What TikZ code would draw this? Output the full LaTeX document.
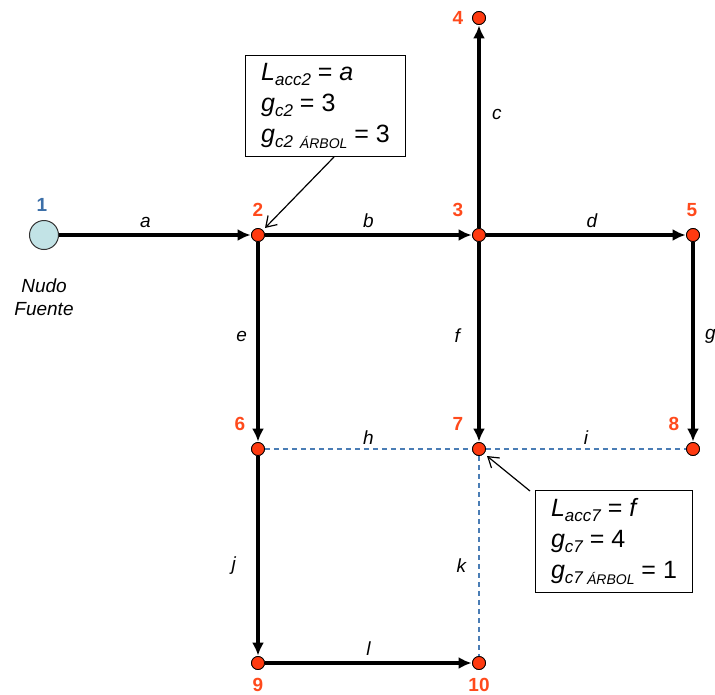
\documentclass[tikz,border=0pt]{standalone}
\usepackage{fontspec}
\setmainfont{Liberation Sans}
\usetikzlibrary{arrows.meta,calc}
\definecolor{nred}{HTML}{FF3A10}
\definecolor{lred}{HTML}{FF4A1C}
\definecolor{lblue}{HTML}{3C6FA8}
\definecolor{dblue}{HTML}{4A7DB5}
\definecolor{src}{HTML}{C2E3E6}
\newcommand{\sbs}[1]{\raisebox{-0.35ex}{\fontsize{17}{17}\selectfont\itshape #1}}
\newcommand{\sbss}[1]{\raisebox{-0.45ex}{\fontsize{14}{14}\selectfont\itshape #1}}
\begin{document}
\begin{tikzpicture}[x=1pt,y=-1pt,
  vtx/.style={circle,draw=black,line width=0.8pt,fill=nred,minimum size=13pt,inner sep=0pt},
  srcnode/.style={circle,draw=black!80,line width=1pt,fill=src,minimum size=29pt,inner sep=0pt},
  num/.style={text=lred,font=\fontsize{19}{19}\selectfont\bfseries},
  elab/.style={font=\fontsize{19}{19}\selectfont\itshape},
  arc/.style={line width=3.6pt,-{Latex[length=13pt,width=12pt]},shorten >=0.5pt},
  tie/.style={dblue,line width=1.2pt,dash pattern=on 5pt off 4pt},
  infobox/.style={draw=black,line width=1pt,fill=white,align=left,inner xsep=12pt,inner ysep=5pt,font=\fontsize{25}{31}\selectfont},
  pointer/.style={line width=1.2pt,-{Straight Barb[length=10pt,width=13pt]}}]
\useasboundingbox (0,0) rectangle (715,694);
% nodes
\node[srcnode] (n1) at (44,235) {};
\node[vtx] (n2) at (258,235) {};
\node[vtx] (n3) at (479,235) {};
\node[vtx] (n4) at (479,18) {};
\node[vtx] (n5) at (693,235) {};
\node[vtx] (n6) at (258,449) {};
\node[vtx] (n7) at (479,449) {};
\node[vtx] (n8) at (693,449) {};
\node[vtx] (n9) at (258,663) {};
\node[vtx] (n10) at (479,663) {};
% dashed ties
\draw[tie] (n6) -- (n7) node[pos=0.5,above=1pt,elab,text=black] {h};
\draw[tie] (n7) -- (n8) node[pos=0.5,above=1pt,elab,text=black] {i};
\draw[tie] (n7) -- (n10) node[pos=0.55,left=9pt,elab,text=black] {k};
% arcs
\draw[arc] (n1) -- (n2) node[pos=0.45,above=2pt,elab] {a};
\draw[arc] (n2) -- (n3) node[pos=0.5,above=2pt,elab] {b};
\draw[arc] (n3) -- (n4) node[pos=0.56,right=8pt,elab] {c};
\draw[arc] (n3) -- (n5) node[pos=0.53,above=2pt,elab] {d};
\draw[arc] (n2) -- (n6) node[pos=0.47,left=6pt,elab] {e};
\draw[arc] (n3) -- (n7) node[pos=0.47,left=14pt,elab] {f};
\draw[arc] (n5) -- (n8) node[pos=0.47,right=7pt,elab] {g};
\draw[arc] (n6) -- (n9) node[pos=0.55,left=17pt,elab] {j};
\draw[arc] (n9) -- (n10) node[pos=0.5,above=2pt,elab] {l};
% redraw vertices on top
\foreach \x/\y in {258/235,479/235,479/18,693/235,258/449,479/449,693/449,258/663,479/663}
  \node[vtx] at (\x,\y) {};
% numbers
\node[text=lblue,font=\fontsize{19}{19}\selectfont\bfseries] (l1) at (42,205) {1};
\node[num] (l2) at (258,210) {2};
\node[num] (l3) at (458,210) {3};
\node[num] (l4) at (458,18) {4};
\node[num] (l5) at (692,210) {5};
\node[num] (l6) at (240,424) {6};
\node[num] (l7) at (458,424) {7};
\node[num] (l8) at (674,424) {8};
\node[num,anchor=base] (l9) at (258,691) {9};
\node[num,anchor=base] (l10) at (479,691) {10};
\node[font=\fontsize{19}{23}\selectfont\itshape,align=center] (nf) at (44,297) {Nudo\\Fuente};
% info boxes
\node[infobox,anchor=north west,minimum width=160pt,minimum height=101pt] (b1) at (245,55)
 {\textit{L}\sbs{acc2} = \textit{a}\\\textit{g}\sbs{c2} = 3\\\textit{g}\sbs{c2} \sbss{ÁRBOL} = 3};
\node[infobox,anchor=north west,minimum width=157pt,minimum height=102pt] (b2) at (535,490)
 {\textit{L}\sbs{acc7} = \textit{f}\\\textit{g}\sbs{c7} = 4\\\textit{g}\sbs{c7}\,\sbss{ÁRBOL} = 1};
\coordinate (p1) at (334,157);
\coordinate (p2) at (530,491);
\draw[pointer] (p1) -- ($(n2)+(7,-7)$);
\draw[pointer] (p2) -- ($(n7)+(8,7)$);
\end{tikzpicture}
\end{document}
